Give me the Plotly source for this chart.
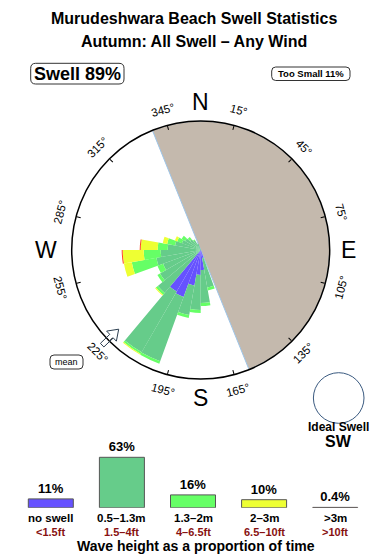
import math
import plotly.graph_objects as go

W, H = 390, 560
FONT = "Liberation Sans"

# ---------------- data ----------------
# direction bins (deg, 10 deg wide), stacked segment lengths (rose units)
directions = [165, 175, 185, 195, 205, 215, 225, 235, 245, 255, 265, 275, 285, 295, 305, 315, 325, 335]
no_swell   = [0.8, 2.0, 2.5, 3.6, 5.0, 4.8, 0, 0, 0, 0, 0, 0, 0, 0, 0, 0, 0, 0]
h_05_13    = [3.0, 3.3, 3.5, 3.0, 6.85, 7.0, 5.6, 4.7, 4.0, 4.5, 4.0, 3.3, 2.6, 2.0, 1.8, 1.4, 1.1, 0.7]
h_13_2     = [0.3, 0.3, 0.3, 0.3, 0.25, 0.2, 0.25, 0.3, 0.6, 2.5, 1.7, 1.0, 0.8, 0.5, 0.4, 0.3, 0.1, 0]
h_2_3      = [0, 0, 0, 0, 0, 0.1, 0.1, 0, 0, 0.8, 2.1, 1.7, 0.45, 0.25, 0, 0, 0, 0]
h_gt3      = [0, 0, 0, 0, 0, 0, 0, 0, 0, 0, 0.1, 0.1, 0, 0, 0, 0, 0, 0]
RMAX = 12.9

land_center = 68      # land sector centre bearing
land_width = 180      # land sector width (deg)

tick_angles = [15, 45, 75, 105, 135, 165, 195, 225, 255, 285, 315, 345]
mean_dir = 226
ideal_dir = "SW"

legend_names = ["no swell", "0.5\u20131.3m", "1.3\u20132m", "2\u20133m", ">3m"]
legend_feet = ["<1.5ft", "1.5\u20134ft", "4\u20136.5ft", "6.5\u201310ft", ">10ft"]
legend_pct = [11, 63, 16, 10, 0.4]

colors = ["#6652ff", "#66cc8a", "#66ff66", "#eeff33", "#ff4422"]
LAND = "#c4b9ad"

# ---------------- geometry helpers ----------------
CX, CY, RPX = 200.7, 250.0, 129.0


def px(x):
    return x / W


def py(y):
    return 1 - y / H


def polar_px(bearing, r):
    a = math.radians(bearing)
    return CX + r * math.sin(a), CY - r * math.cos(a)


def label(x, y, text, size, color="black", weight="normal", angle=0, xref="paper", yanchor="middle"):
    return dict(x=x, y=py(y), xref=xref, yref="paper", showarrow=False, text=text,
                textangle=angle, xanchor="center", yanchor=yanchor, borderpad=0,
                font=dict(family=FONT, size=size, color=color, weight=weight))


fig = go.Figure()

# land sector
fig.add_trace(go.Barpolar(r=[RMAX], theta=[land_center], width=[land_width],
                          marker=dict(color=LAND, line=dict(color="#9ec5e8", width=1)),
                          showlegend=False, hoverinfo="skip"))

series = [no_swell, h_05_13, h_13_2, h_2_3, h_gt3]
for vals, col, name in zip(series, colors, legend_names):
    fig.add_trace(go.Barpolar(r=vals, theta=directions, width=[10] * len(directions),
                              marker=dict(color=col, line=dict(width=0)),
                              name=name, showlegend=False))

dom_x = [px(CX - RPX), px(CX + RPX)]
dom_y = [py(CY + RPX), py(CY - RPX)]

fig.update_layout(
    polar=dict(
        domain=dict(x=dom_x, y=dom_y),
        bgcolor="white",
        barmode="stack",
        radialaxis=dict(visible=False, range=[0, RMAX]),
        angularaxis=dict(rotation=90, direction="clockwise", showgrid=False,
                         tickmode="array", tickvals=tick_angles, showticklabels=False,
                         ticks="inside", ticklen=4, tickcolor="black",
                         linecolor="black", linewidth=1.5, layer="above traces"),
    )
)

# ---------------- legend bar chart ----------------
fig.add_trace(go.Bar(x=list(range(len(legend_pct))), y=legend_pct, width=0.633,
                     marker=dict(color=colors, line=dict(color="#555555", width=1)),
                     text=[f"{v:g}%" for v in legend_pct], textposition="outside",
                     constraintext="none", cliponaxis=False,
                     textfont=dict(family=FONT, size=13, color="black", weight="bold"),
                     xaxis="x", yaxis="y", showlegend=False))

base_y = 507.7
fig.update_layout(
    xaxis=dict(domain=[15.25 / W, 370.75 / W], range=[-0.5, 4.5], visible=False, fixedrange=True),
    yaxis=dict(domain=[py(base_y), py(base_y - 56)], range=[0, 70], visible=False, fixedrange=True),
)

ann = []
shapes = []

for i, (n, f) in enumerate(zip(legend_names, legend_feet)):
    ann.append(label(i, 524.5, n.replace(">", "&gt;"), 11.5, weight="bold", xref="x", yanchor="bottom"))
    ann.append(label(i, 524.5, f.replace("<", "&lt;").replace(">", "&gt;"), 11,
                     color="#881111", weight="bold", xref="x", yanchor="top"))

ann.append(label(px(196), 545.5, "Wave height as a proportion of time", 14, weight="bold"))

# titles
ann.append(label(px(194), 18, "Murudeshwara Beach Swell Statistics", 16, weight="bold"))
ann.append(label(px(194), 42, "Autumn: All Swell \u2013 Any Wind", 16, weight="bold"))


def rrect(x0, y0, x1, y1, r):
    pts = [
        f"M{px(x0 + r)},{py(y0)}", f"L{px(x1 - r)},{py(y0)}", f"Q{px(x1)},{py(y0)} {px(x1)},{py(y0 + r)}",
        f"L{px(x1)},{py(y1 - r)}", f"Q{px(x1)},{py(y1)} {px(x1 - r)},{py(y1)}",
        f"L{px(x0 + r)},{py(y1)}", f"Q{px(x0)},{py(y1)} {px(x0)},{py(y1 - r)}",
        f"L{px(x0)},{py(y0 + r)}", f"Q{px(x0)},{py(y0)} {px(x0 + r)},{py(y0)}", "Z"]
    return dict(type="path", xref="paper", yref="paper", path=" ".join(pts),
                line=dict(color="#333333", width=1), fillcolor="rgba(0,0,0,0)")


shapes.append(rrect(30.7, 63.3, 124, 84, 5))
ann.append(label(px(77.3), 74, "Swell 89%", 18, weight="bold"))
shapes.append(rrect(271.7, 67, 350, 80.5, 4))
ann.append(label(px(310.8), 73.8, "Too Small 11%", 9.5, weight="bold"))
shapes.append(rrect(50, 355, 83, 369, 4))
ann.append(label(px(66.5), 362, "mean", 9))

# compass letters
for lab, b, r in [("N", 0, 148), ("E", 90, 148), ("S", 180, 148), ("W", 270, 155)]:
    x, y = polar_px(b, r)
    ann.append(label(px(x), y, lab, 23))

# degree labels
for a in tick_angles:
    x, y = polar_px(a, 145)
    ang = a if (a <= 90 or a >= 270) else a - 180
    if ang > 180:
        ang -= 360
    ann.append(label(px(x), y, f"{a}\u00b0", 11.5, angle=ang))


# mean arrow (hollow), pointing toward centre
def arrow_path(bearing, r_tip, r_tail, hw_shaft, hw_head, head_len):
    a = math.radians(bearing)
    ux, uy = math.sin(a), -math.cos(a)   # outward unit (screen coords)
    vx, vy = -uy, ux                      # perpendicular

    def P(r, s):
        return CX + r * ux + s * vx, CY + r * uy + s * vy
    pts = [P(r_tip, 0), P(r_tip + head_len, hw_head), P(r_tip + head_len, hw_shaft),
           P(r_tail, hw_shaft), P(r_tail, -hw_shaft), P(r_tip + head_len, -hw_shaft),
           P(r_tip + head_len, -hw_head)]
    s = "M" + " L".join(f"{px(x)},{py(y)}" for x, y in pts) + " Z"
    return dict(type="path", xref="paper", yref="paper", path=s,
                line=dict(color="#2c3e50", width=1), fillcolor="rgba(255,255,255,0)")


shapes.append(arrow_path(mean_dir, 114, 137, 2.5, 7, 10))

# ideal swell circle
icx, icy, ir = 338.7, 398.0, 25.3
shapes.append(dict(type="circle", xref="paper", yref="paper",
                   x0=px(icx - ir), x1=px(icx + ir), y0=py(icy + ir), y1=py(icy - ir),
                   line=dict(color="#3a5a80", width=1)))
ann.append(label(px(338.7), 426.5, "Ideal Swell", 12, weight="bold"))
ann.append(label(px(338.7), 441, ideal_dir, 16, weight="bold"))

fig.update_layout(
    width=W, height=H, margin=dict(l=0, r=0, t=0, b=0),
    paper_bgcolor="white", plot_bgcolor="white",
    annotations=ann, shapes=shapes, showlegend=False,
    font=dict(family=FONT),
)

fig.write_html("out.html", config={"displayModeBar": False})
